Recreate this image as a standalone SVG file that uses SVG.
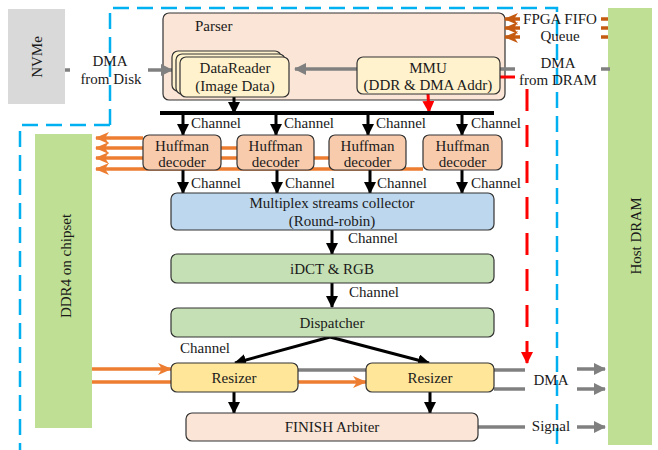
<svg xmlns="http://www.w3.org/2000/svg" width="658" height="450" viewBox="0 0 658 450">
<defs>
<style>
text{font-family:"Liberation Serif","Times New Roman",serif;font-size:15px;fill:#1a1a1a}
.c{text-anchor:middle}
.box{stroke:#333;stroke-width:1.2}
.blk{stroke:#000;stroke-width:3;fill:none}
.gry{stroke:#808080;stroke-width:3.5;fill:none}
.org{stroke:#ed7d31;stroke-width:3.5;fill:none}
.dorg{stroke:#c55a11;stroke-width:3.5;fill:none}
.red{stroke:#ff0000;stroke-width:3;fill:none}
.blu{stroke:#00b0f0;stroke-width:2.5;fill:none;stroke-dasharray:16 8}
</style>
<marker id="ab" markerUnits="userSpaceOnUse" markerWidth="12" markerHeight="12" refX="11" refY="6" orient="auto"><path d="M0,0L12,6L0,12z" fill="#000"/></marker>
<marker id="ag" markerUnits="userSpaceOnUse" markerWidth="12" markerHeight="12" refX="11" refY="6" orient="auto"><path d="M0,0L12,6L0,12z" fill="#808080"/></marker>
<marker id="ao" markerUnits="userSpaceOnUse" markerWidth="14" markerHeight="12" refX="13" refY="6" orient="auto"><path d="M0,0L14,6L0,12L4,6z" fill="#ed7d31"/></marker>
<marker id="ad" markerUnits="userSpaceOnUse" markerWidth="14" markerHeight="12" refX="13" refY="6" orient="auto"><path d="M0,0L14,6L0,12L4,6z" fill="#c55a11"/></marker>
<marker id="ar" markerUnits="userSpaceOnUse" markerWidth="12" markerHeight="12" refX="11" refY="6" orient="auto"><path d="M0,0L12,6L0,12z" fill="#ff0000"/></marker>
</defs>
<rect width="658" height="450" fill="#fff"/>

<!-- boundary -->
<path class="blu" d="M110,125V8H557V450M110,125H20V450"/>

<g id="nvme"><rect x="8" y="9" width="57" height="95" fill="#d9d9d9"/><text class="c" transform="translate(37,57) rotate(-90)" dy="5">NVMe</text></g>
<g id="host-dram"><rect x="608" y="8" width="44" height="437" fill="#bfe094"/><text class="c" transform="translate(636,236) rotate(-90)" dy="5">Host DRAM</text></g>
<g id="ddr4"><rect x="35" y="134" width="57" height="294" fill="#bfe094"/><text class="c" transform="translate(66,266) rotate(-90)" dy="5">DDR4 on chipset</text></g>

<g id="parser"><rect class="box" x="163" y="13" width="342" height="87" rx="6" fill="#fbe5d6"/><text x="195" y="31">Parser</text></g>

<!-- connectors -->
<g id="connectors">
<line class="gry" x1="65" y1="70" x2="70" y2="70"/>
<line class="gry" x1="148" y1="70" x2="172" y2="70" marker-end="url(#ag)"/>
<line class="gry" x1="357" y1="69" x2="295" y2="69" marker-end="url(#ag)"/>
<line class="gry" x1="500" y1="69" x2="515" y2="69"/>
<line class="gry" x1="601" y1="69" x2="610" y2="69"/>
<line class="red" x1="500" y1="77" x2="515" y2="77"/>
<line class="red" x1="527" y1="89" x2="527" y2="363" stroke-dasharray="22 14" marker-end="url(#ar)"/>
<line class="red" x1="428" y1="94" x2="429" y2="112" marker-end="url(#ar)"/>
<line class="dorg" x1="520" y1="19" x2="505" y2="19" marker-end="url(#ad)"/>
<line class="dorg" x1="520" y1="28" x2="505" y2="28" marker-end="url(#ad)"/>
<line class="dorg" x1="520" y1="37" x2="505" y2="37" marker-end="url(#ad)"/>
<line class="dorg" x1="601" y1="19" x2="608" y2="19"/>
<line class="dorg" x1="601" y1="28" x2="608" y2="28"/>
<line class="dorg" x1="601" y1="37" x2="608" y2="37"/>
<line class="blk" x1="234" y1="97" x2="234" y2="113" marker-end="url(#ab)"/>
<line x1="160" y1="113" x2="494" y2="113" stroke="#000" stroke-width="4"/>
<line class="blk" x1="183" y1="114" x2="183" y2="135" marker-end="url(#ab)"/>
<line class="blk" x1="276" y1="114" x2="276" y2="135" marker-end="url(#ab)"/>
<line class="blk" x1="368" y1="114" x2="368" y2="135" marker-end="url(#ab)"/>
<line class="blk" x1="462" y1="114" x2="462" y2="135" marker-end="url(#ab)"/>
<line class="org" x1="143" y1="138" x2="96" y2="138" marker-end="url(#ao)"/>
<line class="org" x1="237" y1="148" x2="96" y2="148" marker-end="url(#ao)"/>
<line class="org" x1="329" y1="158" x2="96" y2="158" marker-end="url(#ao)"/>
<line class="org" x1="423" y1="169" x2="96" y2="169" marker-end="url(#ao)"/>
<line class="blk" x1="183" y1="170" x2="183" y2="193" marker-end="url(#ab)"/>
<line class="blk" x1="277" y1="170" x2="277" y2="193" marker-end="url(#ab)"/>
<line class="blk" x1="370" y1="170" x2="370" y2="193" marker-end="url(#ab)"/>
<line class="blk" x1="462" y1="170" x2="462" y2="193" marker-end="url(#ab)"/>
<line class="blk" x1="332" y1="230" x2="332" y2="254" marker-end="url(#ab)"/>
<line class="blk" x1="332" y1="283" x2="332" y2="307" marker-end="url(#ab)"/>
<line class="blk" x1="330" y1="337" x2="235" y2="363" marker-end="url(#ab)"/>
<line class="blk" x1="330" y1="337" x2="429" y2="363" marker-end="url(#ab)"/>
<line class="org" x1="92" y1="369" x2="171" y2="369" marker-end="url(#ao)"/>
<line class="org" x1="92" y1="382" x2="366" y2="382" marker-end="url(#ao)"/>
<line class="gry" x1="298" y1="370" x2="525" y2="370"/>
<line class="gry" x1="494" y1="389" x2="525" y2="389"/>
<line class="gry" x1="577" y1="369" x2="605" y2="369" marker-end="url(#ag)"/>
<line class="gry" x1="577" y1="389" x2="605" y2="389" marker-end="url(#ag)"/>
<line class="blk" x1="234" y1="392" x2="234" y2="413" marker-end="url(#ab)"/>
<line class="blk" x1="430" y1="392" x2="430" y2="413" marker-end="url(#ab)"/>
<line class="gry" x1="478" y1="427" x2="525" y2="427"/>
<line class="gry" x1="577" y1="427" x2="605" y2="427" marker-end="url(#ag)"/>
</g>

<g id="datareader">
<rect class="box" x="172" y="51" width="109" height="40" rx="6" fill="#fff2cc"/>
<rect class="box" x="176" y="54" width="109" height="40" rx="6" fill="#fff2cc"/>
<rect class="box" x="180" y="57" width="109" height="40" rx="6" fill="#fff2cc"/>
<text class="c" x="235" y="73">DataReader</text><text class="c" x="235" y="91">(Image Data)</text>
</g>
<g id="mmu"><rect class="box" x="357" y="57" width="143" height="37" rx="6" fill="#fff2cc"/><text class="c" x="428" y="73">MMU</text><text class="c" x="428" y="90">(DDR &amp; DMA Addr)</text></g>

<g id="huff1"><rect class="box" x="143" y="135" width="78" height="35" rx="6" fill="#f8cbad"/><text class="c" x="182" y="151">Huffman</text><text class="c" x="182" y="167">decoder</text></g>
<g id="huff2"><rect class="box" x="237" y="135" width="77" height="35" rx="6" fill="#f8cbad"/><text class="c" x="275.5" y="151">Huffman</text><text class="c" x="275.5" y="167">decoder</text></g>
<g id="huff3"><rect class="box" x="329" y="135" width="77" height="35" rx="6" fill="#f8cbad"/><text class="c" x="367.5" y="151">Huffman</text><text class="c" x="367.5" y="167">decoder</text></g>
<g id="huff4"><rect class="box" x="423" y="135" width="79" height="35" rx="6" fill="#f8cbad"/><text class="c" x="462.5" y="151">Huffman</text><text class="c" x="462.5" y="167">decoder</text></g>

<g id="collector"><rect class="box" x="171" y="193" width="323" height="37" rx="6" fill="#bdd7ee"/><text class="c" x="332" y="208">Multiplex streams collector</text><text class="c" x="332" y="226">(Round-robin)</text></g>
<g id="idct"><rect class="box" x="171" y="254" width="323" height="29" rx="6" fill="#c5e0b4"/><text class="c" x="332" y="274">iDCT &amp; RGB</text></g>
<g id="dispatcher"><rect class="box" x="171" y="308" width="323" height="29" rx="6" fill="#c5e0b4"/><text class="c" x="332" y="328">Dispatcher</text></g>
<g id="resizer1"><rect class="box" x="171" y="363" width="127" height="29" rx="6" fill="#ffe699"/><text class="c" x="234" y="383">Resizer</text></g>
<g id="resizer2"><rect class="box" x="366" y="363" width="128" height="29" rx="6" fill="#ffe699"/><text class="c" x="430" y="383">Resizer</text></g>
<g id="finish"><rect class="box" x="186" y="413" width="292" height="28" rx="6" fill="#fbe5d6"/><text class="c" x="332" y="432">FINISH Arbiter</text></g>

<g id="labels">
<text class="c" x="110" y="66">DMA</text><text class="c" x="111" y="84">from Disk</text>
<text class="c" x="558" y="68">DMA</text><text class="c" x="558" y="85">from DRAM</text>
<text class="c" x="560" y="24">FPGA FIFO</text><text class="c" x="560" y="41">Queue</text>
<text x="191" y="128">Channel</text><text x="284" y="128">Channel</text><text x="376" y="128">Channel</text><text x="471" y="128">Channel</text>
<text x="191" y="188">Channel</text><text x="285" y="188">Channel</text><text x="377" y="188">Channel</text><text x="471" y="188">Channel</text>
<text x="348" y="243">Channel</text><text x="349" y="297">Channel</text>
<text x="180" y="353">Channel</text>
<text class="c" x="551" y="385">DMA</text><text class="c" x="551" y="431">Signal</text>
</g>
</svg>
